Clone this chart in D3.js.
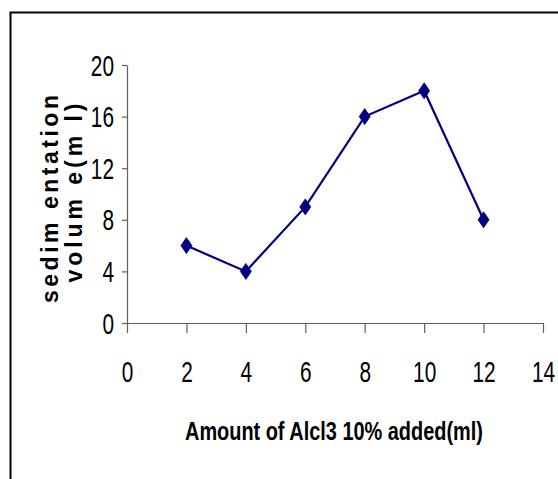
<!DOCTYPE html>
<html>
<head>
<meta charset="utf-8">
<script src="https://cdn.jsdelivr.net/npm/d3@7"></script>
<style>
  html, body { margin: 0; padding: 0; background: #fff; }
  svg { display: block; }
</style>
</head>
<body>
<svg id="chart" width="558" height="479"></svg>
<script>
// AlCl3 (10%) added, ml
const amounts = [2, 4, 6, 8, 10, 12];
// sedimentation volume, ml
const volumes = [6, 4, 9, 16, 18, 8];
const xTicks = [0, 2, 4, 6, 8, 10, 12, 14];
const yTicks = [0, 4, 8, 12, 16, 20];
const xTitle = "Amount of Alcl3 10% added(ml)";
const yTitleLines = ["sedim entation", "volum e(m l)"];

const svg = d3.select("#chart");
const W = 558, H = 479;
const plot = { left: 127, right: 543, top: 65, bottom: 323 };

svg.append("rect").attr("width", W).attr("height", H).attr("fill", "#fff");

// outer chart frame (runs off the right and bottom edges)
svg.append("rect")
  .attr("x", 10.5).attr("y", 12.5)
  .attr("width", W + 20).attr("height", H + 20)
  .attr("fill", "none").attr("stroke", "#000").attr("stroke-width", 2);

const x = d3.scaleLinear().domain([0, 14]).range([plot.left, plot.right]);
const y = d3.scaleLinear().domain([0, 20]).range([plot.bottom, plot.top]);

const axisColor = "#606060";
const sans = '"Liberation Sans", Arial, sans-serif';
// condensed, slightly tall glyphs
const squeeze = "scale(0.8,1.12)";

const gx = svg.append("g")
  .attr("transform", `translate(0,${plot.bottom})`)
  .call(d3.axisBottom(x).tickValues(xTicks).tickSize(10).tickSizeOuter(0));
const gy = svg.append("g")
  .attr("transform", `translate(${plot.left},0)`)
  .call(d3.axisLeft(y).tickValues(yTicks).tickSize(5).tickSizeOuter(0));

[gx, gy].forEach(g => {
  g.select(".domain").attr("stroke", axisColor).attr("stroke-width", 1.2);
  g.selectAll(".tick line").attr("stroke", axisColor).attr("stroke-width", 1.2);
  g.selectAll(".tick text").remove();
});

gx.selectAll(".tick").append("text")
  .attr("transform", `translate(0,58.5) ${squeeze}`)
  .attr("text-anchor", "middle")
  .attr("fill", "#000")
  .style("font-family", sans)
  .style("font-size", "26px")
  .text(d => d);

gy.selectAll(".tick").append("text")
  .attr("transform", `translate(-13,10) ${squeeze}`)
  .attr("text-anchor", "end")
  .attr("fill", "#000")
  .style("font-family", sans)
  .style("font-size", "26px")
  .text(d => d);

// data line
const pts = amounts.map((a, i) => [a, volumes[i]]);
svg.append("path")
  .datum(pts)
  .attr("fill", "none")
  .attr("stroke", "#000080")
  .attr("stroke-width", 2.2)
  .attr("d", d3.line().x(d => x(d[0])).y(d => y(d[1])));

// diamond markers
svg.append("g").selectAll("path")
  .data(pts)
  .join("path")
  .attr("transform", d => `translate(${x(d[0])},${y(d[1])})`)
  .attr("d", "M0,-8 L5.5,0 L0,8 L-5.5,0 Z")
  .attr("fill", "#000080")
  .attr("stroke", "#000080")
  .attr("stroke-width", 0.8);

// x-axis title: narrowed to span its slot
const xt = svg.append("text")
  .attr("text-anchor", "start")
  .attr("fill", "#000")
  .style("font-family", sans)
  .style("font-size", "22.5px")
  .style("font-weight", "bold")
  .text(xTitle);
const xtLen = xt.node().getComputedTextLength();
xt.attr("transform", `translate(185,440) scale(${298 / xtLen},1.12)`);

// y-axis title, two rotated, letter-spaced lines
const yTitleSpec = [
  { bx: 58, cy: 199, len: 208 },
  { bx: 82, cy: 193, len: 179 }
];
yTitleLines.forEach((t, i) => {
  const s = yTitleSpec[i];
  svg.append("text")
    .attr("transform", `translate(${s.bx},${s.cy}) rotate(-90)`)
    .attr("text-anchor", "middle")
    .attr("textLength", s.len)
    .attr("lengthAdjust", "spacing")
    .style("font-family", sans)
    .style("font-size", "23px")
    .style("font-weight", "bold")
    .attr("fill", "#000")
    .text(t);
});
</script>
</body>
</html>
